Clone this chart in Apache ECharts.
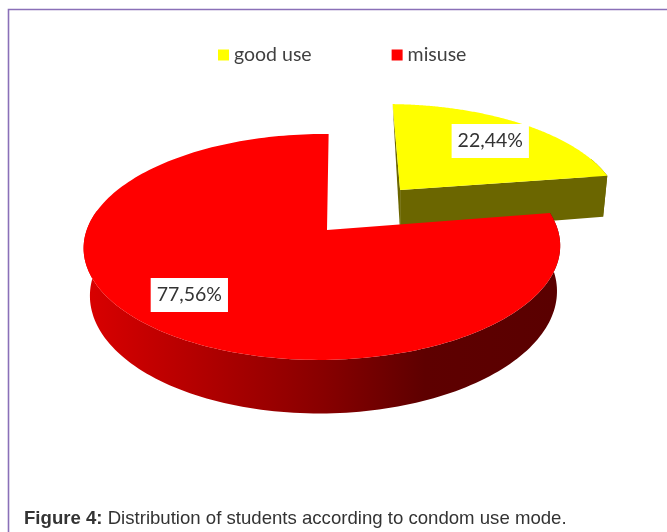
<!DOCTYPE html>
<html><head><meta charset="utf-8">
<style>html,body{margin:0;padding:0;background:#fff}#c{width:667px;height:532px}</style>
<script src="https://cdn.jsdelivr.net/npm/echarts@6/dist/echarts.min.js"></script>
</head><body><div id="c"></div>
<script>
const categories = ['good use', 'misuse'];
const shares = [22.44, 77.56];
const shareLabels = ['22,44%', '77,56%'];
const sliceColors = ['#ffff00', '#ff0000'];
const captionBold = 'Figure 4:';
const captionText = ' Distribution of students according to condom use mode.';

// projection of the tilted disc on the page
const CX = 327, CY = 230, RX = 235.5, RY = 110.4, DEPTH_K = 0.15, SIDE_K = 0.02, SHEAR = -0.008;
const WALL = 45.5, TAPER = 0.98, TAPER_X = 400;
const total = shares.reduce((a, b) => a + b, 0);

// per-slice layout: explosion distance, wall visibility limit, label radius and turn
function sliceLayout(i) {
  return i === 0
    ? { explode: 0.505, wallCos: 0.35, labelR: 0.72, labelTurn: 0 }
    : { explode: 0, wallCos: 0.2, labelR: 0.751, labelTurn: 4.2 };
}
function project(u, v, low) {
  const s = 1 / (1 - DEPTH_K * v + SIDE_K * u);
  let x = CX + RX * (u + SHEAR * v) * s;
  let y = CY + RY * v * s;
  if (low) { x = TAPER_X + (x - TAPER_X) * TAPER; y += WALL * s; }
  return [x, y];
}
function sliceGeom(i) {
  let a0 = 0;
  for (let k = 0; k < i; k++) a0 += 360 * shares[k] / total;
  const a1 = a0 + 360 * shares[i] / total;
  const midDeg = (a0 + a1) / 2, mid = midDeg * Math.PI / 180;
  const d = sliceLayout(i).explode;
  return { a0, a1, midDeg, u0: d * Math.sin(mid), v0: -d * Math.cos(mid) };
}
function ring(g, low, cosLimit) {
  const pts = [], n = 200;
  for (let j = 0; j <= n; j++) {
    const t = (g.a0 + (g.a1 - g.a0) * j / n) * Math.PI / 180;
    if (cosLimit !== undefined && Math.cos(t) > cosLimit) continue;
    pts.push(project(g.u0 + Math.sin(t), g.v0 - Math.cos(t), low));
  }
  return pts;
}
const redWallFill = {
  type: 'linear', x: 90, y: 0, x2: 555, y2: 0, global: true,
  colorStops: [
    { offset: 0, color: '#d80000' }, { offset: 0.25, color: '#b00000' },
    { offset: 0.5, color: '#880000' }, { offset: 0.72, color: '#5e0000' },
    { offset: 1, color: '#5a0000' }
  ]
};
function renderSlice(i) {
  return function () {
    const g = sliceGeom(i), L = sliceLayout(i);
    const top = ring(g, false);
    const wallTop = ring(g, false, L.wallCos), wallLow = ring(g, true, L.wallCos);
    const apex = project(g.u0, g.v0, false), apexLow = project(g.u0, g.v0, true);
    const wallFill = i === 0 ? '#6b6600' : redWallFill;
    const kids = [];
    kids.push({ type: 'polygon', shape: { points: wallLow.concat(wallTop.slice().reverse()) }, style: { fill: wallFill } });
    if (i === 0) {
      kids.push({ type: 'polygon', shape: { points: [apex, top[top.length - 1], wallLow[wallLow.length - 1], apexLow] }, style: { fill: wallFill } });
      kids.push({ type: 'polygon', shape: { points: [apex, top[0], apexLow] }, style: { fill: '#6b6600' } });
    }
    kids.push({ type: 'polygon', shape: { points: [apex].concat(top) }, style: { fill: sliceColors[i] } });
    const la = (g.midDeg + L.labelTurn) * Math.PI / 180;
    const lp = project(g.u0 + L.labelR * Math.sin(la), g.v0 - L.labelR * Math.cos(la), false);
    kids.push({
      type: 'text', z2: 10,
      style: {
        x: lp[0], y: lp[1], text: shareLabels[i], align: 'center', verticalAlign: 'middle',
        font: '19.5px Lato', fill: '#333333', backgroundColor: '#ffffff', padding: [7, 6, 7, 6]
      }
    });
    return { type: 'group', children: kids };
  };
}

const chart = echarts.init(document.getElementById('c'), null, { renderer: 'canvas' });
chart.setOption({
  animation: false,
  backgroundColor: '#ffffff',
  title: {
    left: 24, top: 509, padding: 0,
    text: '{b|' + captionBold + '}{n|' + captionText + '}',
    textStyle: { fontWeight: 'normal', rich: {
      b: { fontFamily: 'Liberation Sans', fontSize: 18.6, fontWeight: 'bold', color: '#333333' },
      n: { fontFamily: 'Liberation Sans', fontSize: 18.6, fontWeight: 'normal', color: '#333333' }
    } }
  },
  legend: {
    left: 218, top: 45, padding: 0, itemWidth: 11, itemHeight: 11, itemGap: 80, icon: 'rect',
    textStyle: { fontFamily: 'Lato', fontSize: 19.5, color: '#404040', padding: [0, 0, 0, 0] },
    data: categories
  },
  graphic: [{
    type: 'polyline', silent: true,
    shape: { points: [[8.5, 532], [8.5, 9.5], [667, 9.5]] },
    style: { fill: 'none', stroke: '#8a70b8', lineWidth: 1.6 }
  }],
  series: categories.map((name, i) => ({
    type: 'custom', name, coordinateSystem: 'none', z: 2 + i, silent: true, clip: false,
    itemStyle: { color: sliceColors[i] },
    data: [{ name, value: shares[i] }],
    renderItem: renderSlice(i)
  }))
});
</script></body></html>
